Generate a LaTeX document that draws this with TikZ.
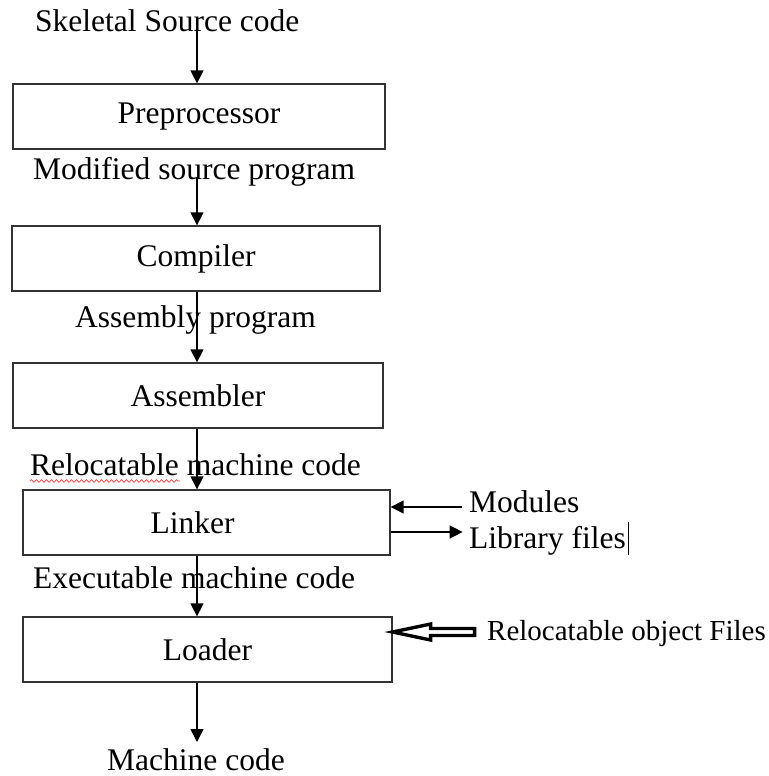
\documentclass[tikz,border=0pt]{standalone}
\usepackage{fontspec}
\setmainfont{Liberation Serif}
\usetikzlibrary{arrows.meta,decorations.pathmorphing}
\begin{document}
\begin{tikzpicture}[x=1pt,y=-1pt,
  stagebox/.style={draw=black!80,line width=1.3pt,inner sep=0pt},
  lbl/.style={inner sep=0pt,anchor=base west},
  arr/.style={line width=1.4pt,-{Triangle[width=13pt,length=13pt]}},
  every node/.style={font=\fontsize{31.5}{36}\selectfont}]
\useasboundingbox (0,0) rectangle (768,776);
\coordinate (ax) at (197,0);
% boxes
\node[stagebox,minimum width=372pt,minimum height=65pt] (pre) at (199,116.5) {};
\node[inner sep=0pt] at (pre) {Preprocessor};
\node[stagebox,minimum width=368pt,minimum height=65pt] (comp) at (196,258.5) {};
\node[inner sep=0pt] at (comp) {Compiler};
\node[stagebox,minimum width=370pt,minimum height=65pt] (asm) at (198,395.5) {};
\node[inner sep=0pt] at (asm) {Assembler};
\node[stagebox,minimum width=367pt,minimum height=65pt] (lnk) at (206.5,522.5) {};
\node[inner sep=0pt] at ([xshift=-14pt]lnk.center) {Linker};
\node[stagebox,minimum width=369pt,minimum height=65pt] (ldr) at (207.5,649.5) {};
\node[inner sep=0pt] at (ldr) {Loader};
% labels
\node[lbl] (t0) at (35,32) {Skeletal Source code};
\node[lbl] (t1) at (33,179) {Modified source program};
\node[lbl] (t2) at (75,327) {Assembly program};
\node[lbl] (t3) at (30,475) {Relocatable machine code};
\node[lbl] (t4) at (33,588) {Executable machine code};
\node[lbl] (t5) at (107,770) {Machine code};
\node[lbl] (mod) at (469,512) {Modules};
\node[lbl] (lib) at (469,548) {Library files};
\node[lbl,font=\fontsize{29}{34}\selectfont] (rof) at (487,640) {Relocatable object Files};
% spell-check squiggle and cursor
\draw[red!70,line width=0.8pt,decorate,decoration={snake,amplitude=1.3pt,segment length=5pt}] (t3.base west) ++(0,6) coordinate (sq) -- ++(150,0);
\draw[line width=1pt] (lib.base east) ++(3,7) -- ++(0,-33);
% vertical arrows
\draw[arr] (ax |- t0.base) ++(0,-5) -- (ax |- pre.north);
\draw[arr] (ax |- t1.base) ++(0,-2) -- (ax |- comp.north);
\draw[arr] (ax |- comp.south) -- (ax |- asm.north);
\draw[arr] (ax |- asm.south) -- (ax |- lnk.north);
\draw[arr] (ax |- lnk.south) -- (ax |- ldr.north);
\draw[arr] (ax |- ldr.south) -- ([yshift=28pt]ax |- t5.base);
% linker side arrows
\draw[arr] (lnk.east |- 0,507) ++(71,0) -- (lnk.east |- 0,507);
\draw[arr] (lnk.east |- 0,532) -- ++(72,0);
% hollow arrow to loader
\coordinate (tip) at (ldr.east |- 0,632);
\draw[line width=3.4pt,fill=white,line join=miter]
  (tip) -- ++(38,-8) -- ++(0,4.5) -- ++(44,0) -- ++(0,7) -- ++(-44,0) -- ++(0,4.5) -- cycle;
\end{tikzpicture}
\end{document}
